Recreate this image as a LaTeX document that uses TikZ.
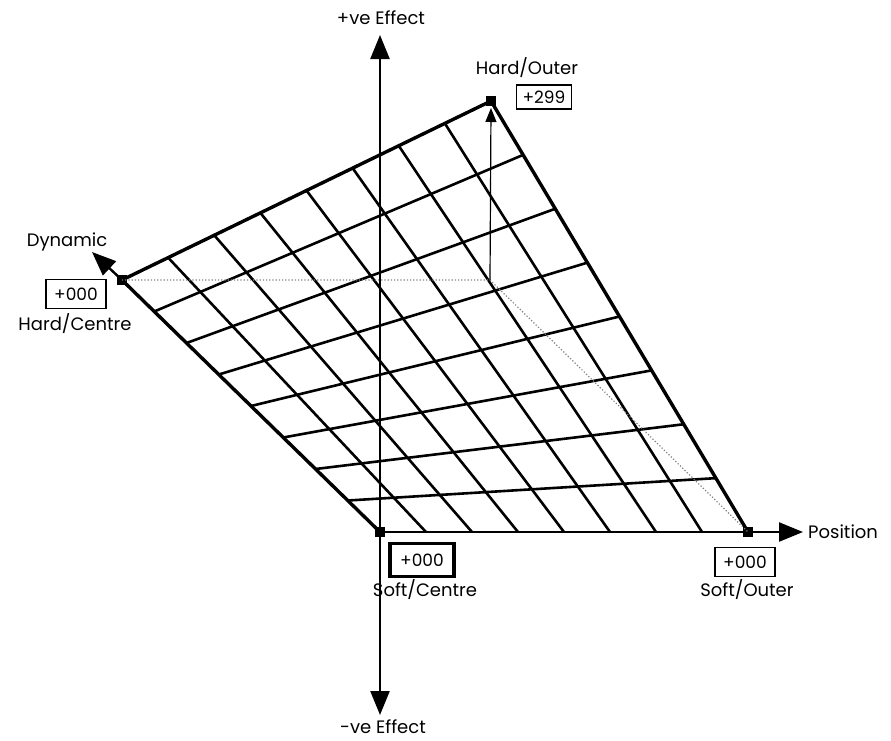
\documentclass[tikz,border=0pt]{standalone}
\usepackage{fontspec}
\setmainfont{Poppins}
\usetikzlibrary{arrows.meta,calc}
\begin{document}
\begin{tikzpicture}[x=1pt,y=-1pt,
  corner/.style={rectangle,fill=black,minimum size=10pt,inner sep=0pt},
  gridline/.style={line width=2.6pt},
  edge/.style={line width=3.4pt},
  axis/.style={line width=2.4pt,-{Triangle[length=24pt,width=19pt]}},
  thinarrow/.style={line width=1.2pt,-{Triangle[length=14pt,width=11pt]}},
  dotline/.style={gray,line width=1.2pt,dotted},
  valbox/.style={draw,line width=1.6pt,inner sep=0pt,font=\fontsize{17}{19}\selectfont},
  lbl/.style={inner sep=0pt,font=\fontsize{18}{20}\selectfont}]
\useasboundingbox (0,0) rectangle (891,740);
% corners
\node[corner] (HC) at (122,280) {};
\node[corner] (HO) at (491,101) {};
\node[corner] (SO) at (748,532) {};
\node[corner] (SC) at (380,532) {};
% axis end points
\coordinate (ytop) at (380,35);
\coordinate (ybot) at (380,715);
\coordinate (xend) at (803,532);
\coordinate (dyn) at (92,252);
% grid
\foreach \i in {1,...,7}{
  \draw[gridline] ($(HC.center)!\i/8!(HO.center)$) -- ($(SC.center)!\i/8!(SO.center)$);
  \draw[gridline] ($(HC.center)!\i/8!(SC.center)$) -- ($(HO.center)!\i/8!(SO.center)$);
}
% edges
\draw[edge] (HC.center) -- (HO.center) -- (SO.center);
\draw[edge] (HC.center) -- (SC.center);
% axes
\draw[axis] (SC.center) -- (ytop);
\draw[axis] (SC.center) -- (ybot);
\draw[axis] (SC.center) -- (xend);
\draw[axis] (HC.center) -- (dyn);
% projection
\coordinate (P) at ($(HC.center)+(SO.center)-(SC.center)$);
\draw[dotline] (HC.center) -- (P) -- (SO.center);
\draw[thinarrow] (P) -- ($(HO.center)+(0,7)$);
% labels
\node[lbl] (tpos) at (381,18) {+ve Effect};
\node[lbl] (tneg) at (383,727) {-ve Effect};
\node[lbl,anchor=west] (tx) at (808,532) {Position};
\node[lbl] (tdyn) at (67,242) {Dynamic};
\node[lbl] (tHO) at (527,68) {Hard/Outer};
\node[valbox,minimum width=55pt,minimum height=24pt] (vHO) at (544,97) {+299};
\node[valbox,minimum width=60pt,minimum height=29pt] (vHC) at (76,294) {+000};
\node[lbl] (tHC) at (75,324) {Hard/Centre};
\node[valbox,line width=3.2pt,minimum width=64pt,minimum height=33pt] (vSC) at (422,560) {+000};
\node[lbl] (tSC) at (425,590) {Soft/Centre};
\node[valbox,minimum width=60pt,minimum height=29pt] (vSO) at (745,562) {+000};
\node[lbl] (tSO) at (747,590) {Soft/Outer};
\end{tikzpicture}
\end{document}
